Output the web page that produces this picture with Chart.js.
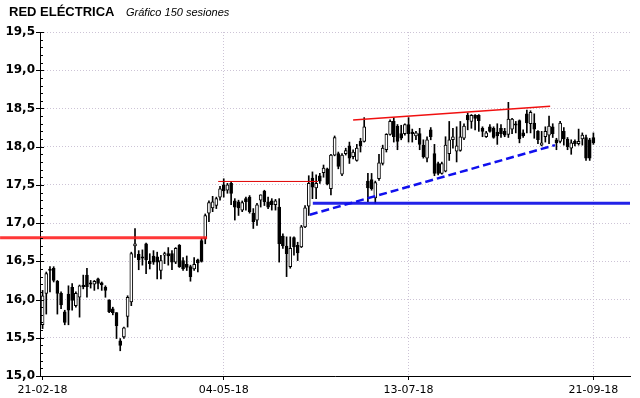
<!DOCTYPE html>
<html lang="es">
<head>
<meta charset="utf-8">
<title>Red Eléctrica - Gráfico 150 sesiones</title>
<script src="https://cdn.jsdelivr.net/npm/chart.js@4.4.1/dist/chart.umd.min.js"></script>
<style>
  html, body { margin: 0; padding: 0; background: #fff; }
  #wrap { width: 640px; height: 398px; }
</style>
</head>
<body>
<div id="wrap"><canvas id="grafico"></canvas></div>
<script>
// ---- datos: 150 sesiones (21-02-18 .. 21-09-18) ----
const titulo = 'RED ELÉCTRICA';
const subtitulo = 'Gráfico 150 sesiones';

const opens = [
  15.67,16.08,16.40,16.41,16.24,16.08,15.84,16.07,16.16,15.92,
  16.03,16.19,16.32,16.22,16.20,16.27,16.22,16.16,15.99,15.88,
  15.83,15.46,15.51,15.78,15.97,16.70,16.59,16.56,16.73,16.50,
  16.57,16.56,16.38,16.58,16.60,16.60,16.49,16.71,16.51,16.46,
  16.43,16.40,16.52,16.77,16.80,17.13,17.20,17.23,17.34,17.50,
  17.43,17.52,17.29,17.28,17.17,17.32,17.34,17.13,17.04,17.30,
  17.42,17.28,17.29,17.24,17.21,16.83,16.70,16.43,16.81,16.71,
  16.69,16.95,17.22,17.59,17.46,17.62,17.66,17.71,17.45,17.89,
  17.91,17.64,17.91,18.01,17.87,17.82,18.07,18.07,17.55,17.57,
  17.33,17.58,17.78,17.96,18.16,18.33,18.27,18.17,18.17,18.29,
  18.19,18.14,18.17,18.02,17.85,18.22,17.91,17.78,17.65,17.68,
  17.91,18.09,17.94,17.95,18.11,18.41,18.33,18.41,18.41,18.24,
  18.13,18.26,18.24,18.19,18.24,18.20,18.16,18.23,18.30,18.34,
  18.18,18.43,18.30,18.31,18.20,18.02,18.13,18.15,18.26,18.09,
  18.07,18.20,18.10,17.98,18.07,18.04,18.10,18.12,18.09,18.12
];
const highs = [
  16.12,16.36,16.43,16.43,16.25,16.10,15.86,16.18,16.21,16.10,
  16.19,16.32,16.41,16.25,16.25,16.28,16.23,16.18,16.00,15.90,
  15.83,15.49,15.64,16.05,16.62,16.93,16.64,16.65,16.74,16.60,
  16.64,16.62,16.58,16.62,16.68,16.64,16.68,16.72,16.55,16.57,
  16.45,16.55,16.53,16.80,17.12,17.29,17.35,17.34,17.48,17.58,
  17.52,17.54,17.32,17.30,17.29,17.34,17.36,17.19,17.26,17.37,
  17.43,17.34,17.32,17.31,17.32,16.86,16.82,16.82,16.82,16.75,
  16.97,17.23,17.62,17.67,17.63,17.65,17.76,17.72,17.90,18.14,
  17.93,17.91,17.98,18.06,17.96,18.03,18.11,18.38,17.65,17.65,
  17.55,17.90,18.02,18.17,18.35,18.38,18.29,18.28,18.30,18.38,
  18.23,18.20,18.24,18.09,18.13,18.25,18.03,17.80,17.80,18.13,
  18.33,18.24,18.26,18.33,18.30,18.44,18.42,18.42,18.42,18.26,
  18.20,18.29,18.26,18.30,18.29,18.24,18.58,18.37,18.33,18.35,
  18.22,18.48,18.47,18.43,18.21,18.20,18.26,18.40,18.30,18.11,
  18.33,18.25,18.12,18.09,18.09,18.23,18.18,18.15,18.11,18.18
];
const lows = [
  15.62,15.81,16.10,16.23,15.81,15.88,15.67,15.67,15.86,15.90,
  15.77,16.14,16.03,16.15,16.12,16.14,16.12,16.03,15.83,15.80,
  15.49,15.33,15.49,15.64,15.92,16.55,16.39,16.45,16.34,16.40,
  16.46,16.27,16.27,16.47,16.45,16.39,16.47,16.42,16.38,16.38,
  16.24,16.38,16.36,16.49,16.73,17.02,17.15,17.19,17.30,17.34,
  17.39,17.24,17.04,17.10,17.15,17.17,17.13,16.93,16.97,17.21,
  17.23,17.19,17.17,17.17,16.49,16.67,16.30,16.41,16.58,16.51,
  16.68,16.94,17.10,17.32,17.32,17.52,17.60,17.50,17.37,17.88,
  17.71,17.62,17.89,17.78,17.84,17.81,17.93,18.06,17.28,17.43,
  17.26,17.56,17.76,17.93,18.15,18.06,17.96,18.09,18.15,18.06,
  18.06,18.09,17.96,17.85,17.80,18.09,17.62,17.63,17.64,17.67,
  17.82,17.98,17.80,17.94,18.09,18.22,18.24,18.22,18.20,18.13,
  18.12,18.19,18.11,18.03,18.12,18.13,18.12,18.17,18.18,18.05,
  18.12,18.18,18.18,18.11,18.04,18.01,18.06,18.04,18.12,17.96,
  18.05,18.02,17.96,17.90,18.01,18.02,18.02,17.82,17.82,18.03
];
const closes = [
  16.05,16.34,16.38,16.25,16.08,15.93,15.70,15.86,15.99,16.08,
  16.18,16.17,16.17,16.20,16.24,16.21,16.19,16.12,15.84,15.83,
  15.66,15.40,15.63,16.03,16.60,16.73,16.52,16.54,16.52,16.47,
  16.49,16.49,16.51,16.60,16.57,16.49,16.67,16.43,16.40,16.42,
  16.30,16.46,16.48,16.50,17.10,17.27,17.28,17.32,17.45,17.42,
  17.50,17.39,17.21,17.20,17.27,17.28,17.15,17.02,17.24,17.37,
  17.28,17.21,17.24,17.29,16.73,16.70,16.60,16.67,16.69,16.61,
  16.95,17.20,17.52,17.47,17.52,17.55,17.72,17.51,17.89,18.12,
  17.74,17.89,17.95,17.85,17.93,17.98,18.01,18.26,17.46,17.45,
  17.53,17.79,17.98,18.16,18.33,18.13,18.07,18.11,18.29,18.17,
  18.17,18.18,18.03,17.87,18.09,18.13,17.65,17.65,17.78,18.02,
  18.09,18.13,18.01,18.13,18.27,18.35,18.41,18.37,18.34,18.20,
  18.18,18.20,18.12,18.14,18.17,18.15,18.36,18.36,18.28,18.10,
  18.14,18.31,18.45,18.23,18.09,18.05,18.20,18.27,18.17,18.05,
  18.31,18.10,18.00,18.05,18.04,18.07,18.15,17.85,17.85,18.05
];

// eje X: indice de sesion y fechas que se rotulan
const tickIdx = [0, 49, 99, 149];
const tickLabels = ['21-02-18', '04-05-18', '13-07-18', '21-09-18'];
const xMin = -0.7, xMax = 158.9;
const yMin = 15, yMax = 19.5;

// lineas de analisis tecnico (x = sesion, y = precio)
const soporteX = [-11.5, 44.5],  soporteY = [16.81, 16.81];
const techoX   = [47.5, 74.5],   techoY   = [17.545, 17.545];
const resistX  = [84.0, 137.3],  resistY  = [18.35, 18.53];
const alcistaX = [72.3, 138.6],  alcistaY = [17.11, 18.02];
const apoyoX   = [73.1, 158.9],  apoyoY   = [17.26, 17.26];

const pts = (xs, ys) => xs.map((x, k) => ({ x: x, y: ys[k] }));

const marcas = {
    id: 'marcas',
    afterDraw(chart) {
        const { ctx, scales: { x, y } } = chart;
        ctx.save();
        ctx.strokeStyle = '#000';
        ctx.lineWidth = 1;
        ctx.beginPath();
        const n = Math.round((yMax - yMin) * 10);
        for (let k = 0; k <= n; k++) {
            const py = Math.round(y.getPixelForValue(yMin + k / 10)) + 0.5;
            const major = k % 5 === 0;
            ctx.moveTo(x.left - (major ? 4 : 0), py);
            ctx.lineTo(x.left + (major ? 4 : 3), py);
        }
        ctx.stroke();
        // titulo
        ctx.fillStyle = '#000';
        ctx.textBaseline = 'alphabetic';
        ctx.font = 'bold 13px "Liberation Sans"';
        ctx.fillText(titulo, 9, 16);
        ctx.font = 'italic 11px "Liberation Sans"';
        ctx.fillText(subtitulo, 126, 16);
        ctx.restore();
    }
};

Chart.defaults.font.family = '"DejaVu Sans"';
Chart.defaults.color = '#000';

const rejilla = '#cdc4d6';

new Chart(document.getElementById('grafico'), {
    type: 'bar',
    data: {
        datasets: [
            { type: 'line', data: pts(soporteX, soporteY), borderColor: 'rgba(255,20,20,0.85)', borderWidth: 3, pointRadius: 0, clip: false, order: -1 },
            { type: 'line', data: pts(techoX, techoY), borderColor: '#e00000', borderWidth: 1, pointRadius: 0, order: -1 },
            { type: 'line', data: pts(resistX, resistY), borderColor: '#f01010', borderWidth: 1.5, pointRadius: 0, order: -1 },
            { type: 'line', data: pts(alcistaX, alcistaY), borderColor: '#1010ee', borderWidth: 2.5, borderDash: [8, 4], pointRadius: 0, order: -1 },
            { type: 'line', data: pts(apoyoX, apoyoY), borderColor: 'rgba(10,10,230,0.9)', borderWidth: 3, pointRadius: 0, order: -1 },
            {
                label: 'cuerpo',
                data: opens.map((o, i) => ({ x: i, y: [o, closes[i]] })),
                backgroundColor: ctx => closes[ctx.dataIndex] >= opens[ctx.dataIndex] ? '#fff' : '#000',
                borderColor: '#000',
                borderWidth: 1,
                borderSkipped: false,
                barThickness: 3,
                minBarLength: 1,
                grouped: false,
                order: 0
            },
            {
                label: 'mecha',
                data: highs.map((h, i) => ({ x: i, y: [lows[i], h] })),
                backgroundColor: '#000',
                borderWidth: 0,
                barThickness: 1,
                grouped: false,
                order: 1
            }
        ]
    },
    options: {
        responsive: true,
        maintainAspectRatio: false,
        animation: false,
        layout: { padding: { top: 32, right: 10, left: 0, bottom: 0 } },
        plugins: { legend: { display: false }, tooltip: { enabled: false } },
        scales: {
            x: {
                type: 'linear',
                min: xMin,
                max: xMax,
                offset: false,
                afterFit: s => { s.height = 22; },
                afterBuildTicks: axis => { axis.ticks = tickIdx.map(v => ({ value: v })); },
                ticks: {
                    autoSkip: false,
                    maxRotation: 0,
                    padding: 4,
                    font: { size: 11 },
                    callback: (v, i) => tickLabels[i]
                },
                grid: {
                    offset: false,
                    color: c => c.index === 0 ? 'rgba(0,0,0,0)' : rejilla,
                    tickColor: '#000',
                    tickLength: 4
                },
                border: { color: '#000', width: 1, dash: [1, 2] }
            },
            y: {
                min: yMin,
                max: yMax,
                afterFit: s => { s.width = 40; },
                ticks: {
                    stepSize: 0.5,
                    padding: 5,
                    font: { size: 12, weight: 'bold' },
                    callback: v => v.toFixed(1).replace('.', ',')
                },
                grid: { color: rejilla, drawTicks: false },
                border: { color: '#000', width: 1, dash: [1, 2] }
            }
        }
    },
    plugins: [marcas]
});
</script>
</body>
</html>
